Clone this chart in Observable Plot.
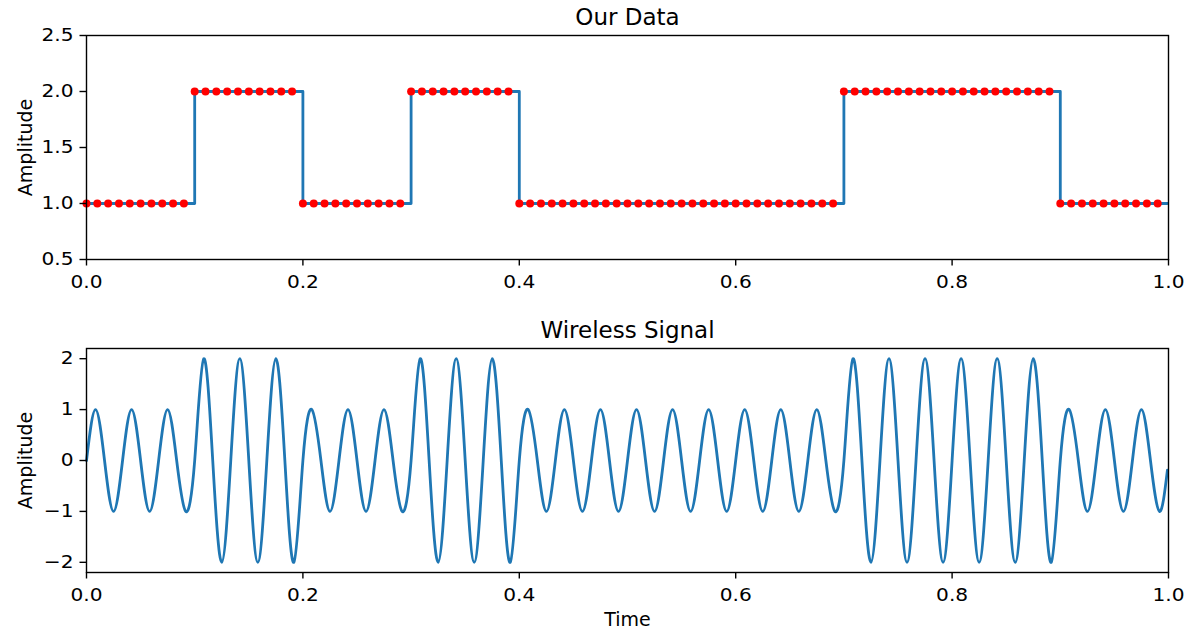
<!DOCTYPE html>
<html>
<head>
<meta charset="utf-8">
<script src="https://cdn.jsdelivr.net/npm/d3@7"></script>
<script src="https://cdn.jsdelivr.net/npm/@observablehq/plot@0.6"></script>
<style>
  html, body { margin: 0; padding: 0; background: #fff; }
  #chart { width: 1192px; height: 629px; overflow: hidden; }
  #chart svg { display: block; }
</style>
</head>
<body>
<div id="chart"></div>
<script>
// ---- Data ----
const titles = ["Our Data", "Wireless Signal"];
const yLabel = "Amplitude";
const xLabel = "Time";

const xTicks = [0.0, 0.2, 0.4, 0.6, 0.8, 1.0];
const topYTicks = [0.5, 1.0, 1.5, 2.0, 2.5];
const bottomYTicks = [-2, -1, 0, 1, 2];
const topYDomain = [0.5, 2.5];
const bottomYDomain = [-2.2, 2.2];

// "Our Data": 100 samples, one every 0.01 s
const sampleStep = 0.01;
const dataValues = [
  1,1,1,1,1,1,1,1,1,1,
  2,2,2,2,2,2,2,2,2,2,
  1,1,1,1,1,1,1,1,1,1,
  2,2,2,2,2,2,2,2,2,2,
  1,1,1,1,1,1,1,1,1,1,
  1,1,1,1,1,1,1,1,1,1,
  1,1,1,1,1,1,1,1,1,1,
  2,2,2,2,2,2,2,2,2,2,
  2,2,2,2,2,2,2,2,2,2,
  1,1,1,1,1,1,1,1,1,1
];
const lastTime = 0.999;

// "Wireless Signal": 30 carrier cycles on [0, 1]; peak amplitude of each cycle
const cycleCount = 30;
const cycleAmplitudes = [
  1,1,1, 2,2,2, 1,1,1, 2,2,2, 1,1,1,
  1,1,1, 1,1,1, 2,2,2, 2,2,2, 1,1,1
];
// within each cycle: zero, +peak, zero, -peak
const cyclePattern = [0, 1, 0, -1];
const signalEndValue = -0.19;

// ---- Tables built from the arrays ----
const samples = dataValues.map((v, i) => ({t: i * sampleStep, v}));
const stepLine = samples.concat([{t: lastTime, v: dataValues[dataValues.length - 1]}]);

const signal = [];
cycleAmplitudes.forEach((a, c) => {
  cyclePattern.forEach((p, q) => {
    signal.push({t: (c + q / cyclePattern.length) / cycleCount, v: p * a});
  });
});
signal.push({t: lastTime, v: signalEndValue});

// ---- Styling ----
const BLUE = "#1f77b4";
const FONT = "DejaVu Sans, sans-serif";
const TICK_FONT = 18;
const TICK_STRETCH = 1.12;

function panel({height, marginTop, marginBottom, yDomain, yTicks, yFormat, title, xText, marks}) {
  return Plot.plot({
    width: 1192,
    height,
    marginLeft: 86,
    marginRight: 24,
    marginTop,
    marginBottom,
    style: {fontFamily: FONT, fontSize: "19px", color: "black", background: "white", overflow: "visible"},
    x: {domain: [0, 1]},
    y: {domain: yDomain},
    marks: [
      ...marks,
      Plot.frame({stroke: "black", strokeWidth: 1.4}),
      Plot.axisX({ticks: xTicks, tickFormat: d3.format(".1f"), tickSize: 6.5, tickPadding: 9, strokeWidth: 1.4, fontSize: TICK_FONT, label: null}),
      Plot.axisY({ticks: yTicks, tickFormat: yFormat, tickSize: 6.5, tickPadding: 6.5, strokeWidth: 1.4, fontSize: TICK_FONT, label: null}),
      Plot.text([title], {text: d => d, frameAnchor: "top", textAnchor: "middle", lineAnchor: "middle", dy: -18, fontSize: 23}),
      Plot.text([yLabel], {text: d => d, frameAnchor: "left", textAnchor: "middle", lineAnchor: "middle", rotate: -90, dx: -61}),
      xText ? Plot.text([xText], {text: d => d, frameAnchor: "bottom", textAnchor: "middle", lineAnchor: "middle", dy: 47}) : null
    ]
  });
}

const topPanel = panel({
  height: 300,
  marginTop: 35,
  marginBottom: 41,
  yDomain: topYDomain,
  yTicks: topYTicks,
  yFormat: d3.format(".1f"),
  title: titles[0],
  xText: null,
  marks: [
    Plot.line(stepLine, {x: "t", y: "v", curve: "step-after", stroke: BLUE, strokeWidth: 2.8}),
    Plot.dot(samples, {x: "t", y: "v", r: 4, fill: "red"})
  ]
});

const bottomPanel = panel({
  height: 329,
  marginTop: 48,
  marginBottom: 57,
  yDomain: bottomYDomain,
  yTicks: bottomYTicks,
  yFormat: d3.format("d"),
  title: titles[1],
  xText: xLabel,
  marks: [
    Plot.line(signal, {x: "t", y: "v", curve: "natural", stroke: BLUE, strokeWidth: 2.8})
  ]
});

const chart = document.getElementById("chart");
chart.appendChild(topPanel);
chart.appendChild(bottomPanel);

// matplotlib's hinted tick labels render a little wider than plain DejaVu Sans
chart.querySelectorAll('g[aria-label$="tick label"] text').forEach(el => {
  const tr = el.getAttribute("transform");
  if (tr) {
    el.setAttribute("transform", tr + ` scale(${TICK_STRETCH},1)`);
  } else {
    const x = +(el.getAttribute("x") || 0);
    el.setAttribute("transform", `translate(${x * (1 - TICK_STRETCH)},0) scale(${TICK_STRETCH},1)`);
  }
});
</script>
</body>
</html>
